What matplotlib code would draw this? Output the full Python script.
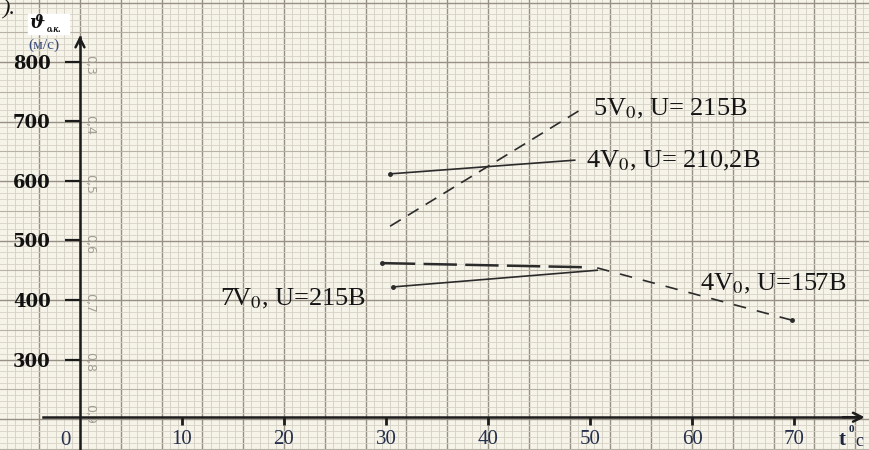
import numpy as np
import matplotlib
matplotlib.use("Agg")
import matplotlib.pyplot as plt
from matplotlib.patches import Rectangle

plt.rcParams['mathtext.fontset'] = 'stix'
plt.rcParams['lines.scale_dashes'] = False

# values (t in deg C, speed in m/s)
t_5v0_215 = [30.4, 49.2]
v_5v0_215 = [524, 721]
t_4v0_210 = [30.4, 48.5]
v_4v0_210 = [612, 635]
t_4v0_157a = [29.6, 49.7]
v_4v0_157a = [462, 455]
t_4v0_157b = [50.7, 69.8]
v_4v0_157b = [454, 366]
t_7v0_215 = [30.7, 50.7]
v_7v0_215 = [422, 450]

x_ticks = [10, 20, 30, 40, 50, 60, 70]
y_ticks = [300, 400, 500, 600, 700, 800]
paper_marks = ['0,3', '0,4', '0,5', '0,6', '0,7', '0,8', '0,9']

serif = ['Liberation Serif', 'DejaVu Serif']
ink = '#1c1c1c'
navy = '#25304d'

fig = plt.figure(figsize=(8.69, 4.5), dpi=100)

# graph paper, in pixel coords
bg = fig.add_axes([0, 0, 1, 1])
bg.set_xlim(0, 869)
bg.set_ylim(450, 0)
bg.axis('off')
bg.add_patch(Rectangle((0, 0), 869, 450, color='#f6f3e9', zorder=0))

dx = 8.16
xs = np.arange(80 - dx * 10, 875, dx)
for i, xv in enumerate(xs):
    if i % 5 == 0:
        bg.axvline(xv, color='#979185', lw=1.0, zorder=1)
    else:
        bg.axvline(xv, color='#d4cfc3', lw=0.6, zorder=1)
dy = 5.95
ys = np.arange(62 - dy * 20, 455, dy)
for i, yv in enumerate(ys):
    if i % 10 == 0:
        bg.axhline(yv, color='#979185', lw=1.0, zorder=1)
    elif i % 5 == 0:
        bg.axhline(yv, color='#b8b2a5', lw=0.8, zorder=1)
    else:
        bg.axhline(yv, color='#d6d2c6', lw=0.6, zorder=1)

# faint printed marks of the paper
for k, s in enumerate(paper_marks):
    yy = 65 + k * 59.5 if k < 6 else 414
    bg.text(90, yy, s, rotation=-90, ha='center', va='center', fontsize=9,
            color='#a39e93', family='DejaVu Sans', zorder=2)

# axis label box
bg.add_patch(Rectangle((28, 14), 41, 20, color='white', zorder=3))
bg.text(29, 23, 'ϑ', fontsize=13, fontweight='bold', fontstyle='italic',
        family=['DejaVu Serif'], ha='left', va='center', color='#111111', zorder=4)
bg.text(47, 29, 'о.к.', fontsize=7, fontweight='bold', fontstyle='italic',
        family=serif, ha='left', va='center', color='#111111', zorder=4)
bg.text(44, 45, '(м/с)', fontsize=11, family=serif,
        ha='center', va='center', color='#3b4c7c', zorder=4)
bg.text(2, 0, ').', fontsize=16, fontstyle='italic', family=serif,
        ha='left', va='top', color='#111111', zorder=4)

# t, deg C label at the right edge
bg.text(842, 440, 't', fontsize=15, fontweight='bold', family=serif,
        ha='center', va='center', color='#1d2640', zorder=4)
bg.text(851, 430, '0', fontsize=8, fontweight='bold', family=serif,
        ha='center', va='center', color='#1d2640', zorder=4)
bg.text(855, 441, 'c', fontsize=13, family=serif,
        ha='left', va='center', color='#1d2640', zorder=4)

# data axes over the paper
ax = fig.add_axes([0, 0, 1, 1])
ax.patch.set_alpha(0)
ax.set_xlim(-7.84, 77.35)
ax.set_ylim(147.9, 904.2)

for side in ['top', 'right']:
    ax.spines[side].set_visible(False)
ax.spines['left'].set_position(('data', 0))
ax.spines['bottom'].set_position(('data', 203))
ax.spines['left'].set_bounds(147.9, 842)
ax.spines['bottom'].set_bounds(-3.6, 76.5)
for side in ['left', 'bottom']:
    ax.spines[side].set_linewidth(1.8)
    ax.spines[side].set_color(ink)

ax.annotate('', xy=(0, 849), xytext=(0, 825),
            arrowprops=dict(arrowstyle='->', lw=1.8, color=ink, mutation_scale=16))
ax.annotate('', xy=(77.2, 203), xytext=(74.5, 203),
            arrowprops=dict(arrowstyle='->', lw=1.8, color=ink, mutation_scale=16))

ax.set_yticks(y_ticks)
ax.set_yticklabels([str(v) for v in y_ticks])
ax.tick_params(axis='y', direction='out', length=11, width=1.6, color=ink, pad=10)
for lab in ax.get_yticklabels():
    lab.set_fontfamily('DejaVu Serif')
    lab.set_fontweight('bold')
    lab.set_fontsize(13)
    lab.set_color('#111111')

ax.set_xticks(x_ticks)
ax.set_xticklabels([str(v) for v in x_ticks])
ax.tick_params(axis='x', direction='out', length=6, width=2, color=ink, pad=3)
for lab in ax.get_xticklabels():
    lab.set_fontfamily(serif)
    lab.set_fontsize(15)
    lab.set_color(navy)
ax.text(-1.4, 164.7, '0', fontsize=15, family=serif, color=navy,
        ha='center', va='center')

# curves
ax.plot(t_5v0_215, v_5v0_215, color='#2b2b2b', lw=1.2, dashes=(9, 6))
ax.plot(t_4v0_210, v_4v0_210, color='#2b2b2b', lw=1.2,
        marker='o', ms=2.5, markevery=[0])
ax.plot(t_4v0_157a, v_4v0_157a, color='#2b2b2b', lw=1.8, dashes=(24, 6),
        marker='o', ms=2.5, markevery=[0])
ax.plot(t_4v0_157b, v_4v0_157b, color='#2b2b2b', lw=1.2, dashes=(9, 8),
        marker='o', ms=2.5, markevery=[1])
ax.plot(t_7v0_215, v_7v0_215, color='#2b2b2b', lw=1.2,
        marker='o', ms=2.5, markevery=[0])

lab_kw = dict(fontsize=19, family=serif, color='#151515', va='center', ha='left')
ax.text(50.3, 721, '5V$_0$, U= 215B', **lab_kw)
ax.text(49.6, 634, '4V$_0$, U= 210,2B', **lab_kw)
ax.text(13.7, 402, '7V$_0$, U=215B', **lab_kw)
ax.text(60.8, 427, '4V$_0$, U=157B', **lab_kw)

fig.savefig('out.png', dpi=100)
